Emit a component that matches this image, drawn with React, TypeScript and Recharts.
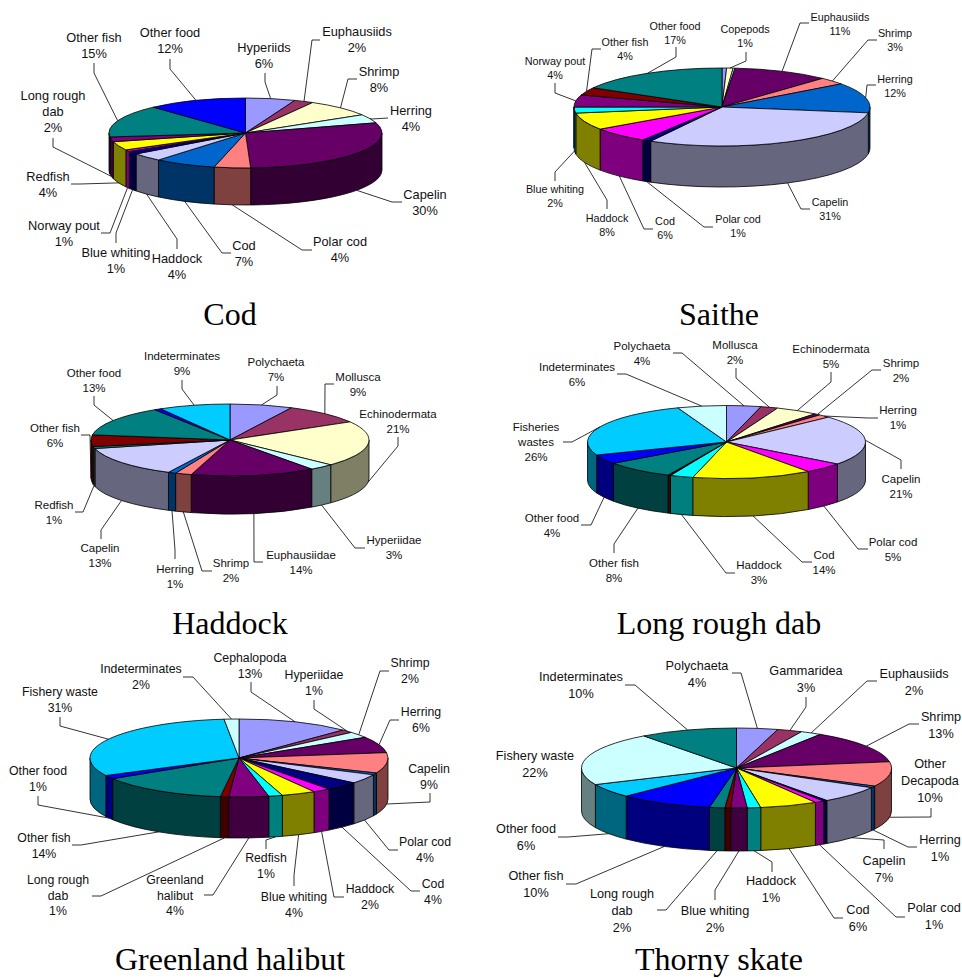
import { Pie, PieChart } from 'recharts'

const codNames = ['Hyperiids', 'Euphausiids', 'Shrimp', 'Herring', 'Capelin', 'Polar cod', 'Cod', 'Haddock', 'Blue whiting', 'Norway pout', 'Redfish', 'Long rough\ndab', 'Other fish', 'Other food']
const codPercents = [6, 2, 8, 4, 30, 4, 7, 4, 1, 1, 4, 2, 15, 12]
const codValues = [5.9, 2.3, 8.1, 4, 29.1, 4.3, 7.3, 3.8, 1.4, 0.8, 4, 2.2, 15, 11.8]
const codColors = ['#9999FF', '#993366', '#FFFFCC', '#CCFFFF', '#660066', '#FF8080', '#0066CC', '#CCCCFF', '#000080', '#FF00FF', '#FFFF00', '#800080', '#008080', '#0000FF']

const saitheNames = ['', 'Copepods', '', 'Euphausiids', 'Shrimp', 'Herring', 'Capelin', 'Polar cod', 'Cod', 'Haddock', 'Blue whiting', 'Norway pout', 'Other fish', 'Other food']
const saithePercents = [0, 1, 0, 11, 3, 12, 31, 1, 6, 8, 2, 4, 4, 17]
const saitheValues = [0.5, 0.7, 0.2, 10.5, 3, 12.5, 30.6, 1, 6.4, 7.1, 2.5, 5, 3.2, 16.8]
const saitheColors = ['#9999FF', '#FFFFCC', '#CCFFFF', '#660066', '#FF8080', '#0066CC', '#CCCCFF', '#000080', '#FF00FF', '#FFFF00', '#00FFFF', '#800080', '#800000', '#008080']

const haddockNames = ['Polychaeta', 'Mollusca', 'Echinodermata', 'Hyperiidae', 'Euphausiidae', 'Shrimp', 'Herring', 'Capelin', 'Redfish', 'Other fish', 'Other food', '', 'Indeterminates']
const haddockPercents = [7, 9, 21, 3, 14, 2, 1, 13, 1, 6, 13, 0, 9]
const haddockValues = [7.3, 9.3, 20.5, 2.9, 14.5, 1.9, 0.9, 13.9, 0.9, 5.2, 13.6, 0.8, 8.3]
const haddockColors = ['#9999FF', '#993366', '#FFFFCC', '#CCFFFF', '#660066', '#FF8080', '#0066CC', '#CCCCFF', '#008080', '#800000', '#008080', '#0000FF', '#00CCFF']

const dabNames = ['Polychaeta', 'Mollusca', 'Echinodermata', 'Shrimp', 'Herring', 'Capelin', 'Polar cod', 'Cod', 'Haddock', '', 'Other fish', 'Other food', 'Fisheries\nwastes', 'Indeterminates']
const dabPercents = [4, 2, 5, 2, 1, 21, 5, 14, 3, 0, 8, 4, 26, 6]
const dabValues = [4, 2, 5, 0.7, 1.4, 22.2, 4.7, 13.9, 2.7, 0.3, 8.2, 4.1, 25.1, 5.7]
const dabColors = ['#9999FF', '#993366', '#FFFFCC', '#660066', '#FF8080', '#CCCCFF', '#FF00FF', '#FFFF00', '#00FFFF', '#800000', '#008080', '#0000FF', '#00CCFF', '#CCFFFF']

const halibutNames = ['Cephalopoda', 'Hyperiidae', 'Shrimp', 'Herring', 'Capelin', '', 'Polar cod', 'Cod', 'Haddock', 'Blue whiting', 'Redfish', 'Greenland\nhalibut', 'Long rough\ndab', 'Other fish', 'Other food', 'Fishery waste', 'Indeterminates']
const halibutPercents = [13, 1, 2, 6, 9, 0, 4, 4, 2, 4, 1, 4, 1, 14, 1, 31, 2]
const halibutValues = [12.3, 1.3, 2.5, 6.7, 8.5, 0.8, 3.9, 3.7, 1.9, 3.7, 1.5, 4.3, 0.9, 14.1, 1.5, 30.8, 1.6]
const halibutColors = ['#9999FF', '#993366', '#CCFFFF', '#660066', '#FF8080', '#0066CC', '#CCCCFF', '#000080', '#FF00FF', '#FFFF00', '#00FFFF', '#800080', '#800000', '#008080', '#0000FF', '#00CCFF', '#CCFFFF']

const skateNames = ['Polychaeta', 'Gammaridea', 'Euphausiids', 'Shrimp', 'Other\nDecapoda', 'Herring', 'Capelin', '', 'Polar cod', 'Cod', 'Haddock', 'Blue whiting', '', 'Long rough\ndab', 'Other fish', 'Other food', 'Fishery waste', 'Indeterminates']
const skatePercents = [4, 3, 2, 13, 10, 1, 7, 0, 1, 6, 1, 2, 0, 2, 10, 6, 22, 10]
const skateValues = [4.3, 2.6, 2.2, 13.4, 10, 0.7, 6.9, 0.4, 1, 6, 1.4, 1.7, 0.6, 1.6, 9.8, 5.6, 21.6, 10.2]
const skateColors = ['#9999FF', '#993366', '#CCFFFF', '#660066', '#FF8080', '#0066CC', '#CCCCFF', '#000080', '#FF00FF', '#FFFF00', '#00FFFF', '#800080', '#800000', '#008080', '#0000FF', '#00CCFF', '#CCFFFF', '#008080']

// label layout: [text x, first line y, stub x1, y1, stub x2, y2], the leader then runs on to the slice
type Spot = number[] | null

const codSpots: Spot[] = [
  [264, 48, 265, 73, 265, 82], [357, 32, 320, 40, 312, 40], [379, 72, 357, 79, 348, 79], [411, 111, 388, 118, 372, 119],
  [425, 195, 402, 202, 392, 202], [340, 242, 312, 250, 302, 250], [244, 246, 231, 253, 222, 253], [177, 259, 177, 249, 177, 239],
  [116, 253, 116, 243, 116, 233], [64, 226, 101, 233, 110, 233], [48, 177, 71, 184, 80, 184], [53, 96, 53, 138, 53, 147],
  [94, 38, 94, 63, 94, 73], [170, 33, 170, 59, 170, 69],
]
const saitheSpots: Spot[] = [
  null, [745, 29, 746, 52, 746, 61], null, [840, 17, 809, 23, 800, 23], [895, 33, 877, 40, 868, 40], [895, 79, 876, 85, 867, 85],
  [830, 202, 810, 209, 801, 209], [738, 219, 713, 227, 704, 227], [665, 221, 653, 229, 644, 229], [607, 218, 607, 209, 607, 200],
  [555, 189, 555, 181, 555, 172], [555, 61, 555, 83, 555, 93], [625, 42, 601, 49, 592, 49], [675, 26, 676, 47, 676, 57],
]
const haddockSpots: Spot[] = [
  [276, 362, 277, 386, 277, 395], [358, 377, 334, 384, 325, 384], [398, 414, 398, 437, 398, 446], [394, 540, 365, 548, 355, 548],
  [301, 555, 263, 562, 254, 562], [231, 563, 212, 571, 202, 571], [175, 569, 175, 559, 175, 550], [100, 548, 101, 539, 101, 530],
  [54, 505, 75, 512, 83, 512], [55, 428, 81, 435, 90, 435], [94, 373, 94, 396, 94, 405], null, [182, 356, 182, 380, 182, 389],
]
const dabSpots: Spot[] = [
  [642, 346, 673, 353, 682, 353], [735, 345, 736, 368, 736, 378], [831, 349, 831, 372, 831, 382], [901, 363, 881, 370, 872, 370],
  [898, 410, 878, 418, 868, 418], [901, 479, 901, 469, 901, 460], [893, 542, 868, 549, 858, 549], [824, 555, 812, 562, 802, 562],
  [759, 565, 735, 573, 726, 573], null, [614, 563, 614, 553, 614, 544], [552, 518, 581, 525, 591, 525],
  [536, 427, 563, 442, 572, 442], [577, 367, 617, 374, 626, 374],
]
const halibutSpots: Spot[] = [
  [250, 658, 251, 682, 251, 692], [314, 675, 314, 700, 314, 709], [410, 663, 389, 671, 380, 671], [421, 712, 399, 720, 390, 720],
  [429, 769, 430, 793, 430, 802], null, [425, 842, 398, 850, 389, 850], [433, 884, 420, 891, 411, 891], [370, 889, 344, 897, 334, 897],
  [294, 897, 294, 886, 294, 875], [266, 858, 266, 849, 266, 840], [175, 880, 204, 895, 213, 895], [58, 880, 92, 896, 101, 896],
  [44, 838, 72, 845, 81, 845], [38, 771, 38, 796, 38, 805], [60, 692, 60, 717, 60, 726], [141, 669, 183, 677, 193, 677],
]
const skateSpots: Spot[] = [
  [697, 666, 732, 673, 741, 673], [806, 671, 806, 697, 806, 707], [914, 674, 877, 681, 867, 681], [941, 717, 919, 724, 909, 724],
  [930, 764, 931, 808, 931, 817], [940, 840, 917, 847, 908, 847], [884, 861, 884, 849, 884, 840], null, [934, 908, 905, 917, 896, 917],
  [858, 910, 843, 918, 834, 918], [771, 881, 772, 872, 772, 862], [715, 911, 715, 900, 715, 890], null, [622, 894, 657, 910, 666, 910],
  [536, 876, 566, 884, 576, 884], [526, 829, 558, 837, 568, 837], [535, 756], [581, 677, 625, 685, 635, 685],
]

const charts = [
  { title: 'Cod', names: codNames, percents: codPercents, values: codValues, colors: codColors, spots: codSpots, cx: 245.5, cy: 133, rx: 136.5, ry: 35, depth: 37, font: 12.8, line: 16, titleX: 230, titleY: 325 },
  { title: 'Saithe', names: saitheNames, percents: saithePercents, values: saitheValues, colors: saitheColors, spots: saitheSpots, cx: 722, cy: 107, rx: 148, ry: 39, depth: 41, font: 10.8, line: 14, titleX: 719, titleY: 325 },
  { title: 'Haddock', names: haddockNames, percents: haddockPercents, values: haddockValues, colors: haddockColors, spots: haddockSpots, cx: 230, cy: 440, rx: 139, ry: 36, depth: 38, font: 11.5, line: 15, titleX: 230, titleY: 634 },
  { title: 'Long rough dab', names: dabNames, percents: dabPercents, values: dabValues, colors: dabColors, spots: dabSpots, cx: 726.5, cy: 442, rx: 139, ry: 36.5, depth: 38, font: 11.5, line: 15, titleX: 719, titleY: 634 },
  { title: 'Greenland halibut', names: halibutNames, percents: halibutPercents, values: halibutValues, colors: halibutColors, spots: halibutSpots, cx: 239, cy: 758, rx: 149, ry: 39, depth: 41, font: 12.3, line: 15.5, titleX: 230, titleY: 970 },
  { title: 'Thorny skate', names: skateNames, percents: skatePercents, values: skateValues, colors: skateColors, spots: skateSpots, cx: 736.5, cy: 768, rx: 155, ry: 40, depth: 43, font: 12.7, line: 17, titleX: 719, titleY: 970 },
]

type ChartDef = (typeof charts)[number]

// the wall of a slice is the same colour at half strength
const halve = (hex: string) => {
  const part = (i: number) => Math.floor(parseInt(hex.slice(i, i + 2), 16) / 2).toString(16).padStart(2, '0')
  return `#${part(1)}${part(3)}${part(5)}`
}

const onRim = (c: ChartDef, deg: number, drop = 0) => {
  const a = (deg * Math.PI) / 180
  return [c.cx + c.rx * Math.cos(a), c.cy - c.ry * Math.sin(a) + drop]
}

// recharts hands over the angles, the slice is squashed to an ellipse and given a wall
const sliceShape = (c: ChartDef) => (props: any) => {
  const { startAngle, endAngle, fill } = props
  const [x1, y1] = onRim(c, startAngle)
  const [x2, y2] = onRim(c, endAngle)
  const large = Math.abs(startAngle - endAngle) > 180 ? 1 : 0
  const top = `M${c.cx},${c.cy} L${x1},${y1} A${c.rx},${c.ry} 0 ${large} 1 ${x2},${y2} Z`
  const from = Math.min(startAngle, 0)
  const to = Math.max(endAngle, -180)
  let wall = null
  if (from > to) {
    const [a1, b1] = onRim(c, from)
    const [a2, b2] = onRim(c, to)
    wall = `M${a1},${b1} A${c.rx},${c.ry} 0 0 1 ${a2},${b2} L${a2},${b2 + c.depth} A${c.rx},${c.ry} 0 0 0 ${a1},${b1 + c.depth} Z`
  }
  return (
    <g>
      {wall && <path d={wall} fill={halve(fill)} stroke="#000" strokeWidth={0.8} />}
      <path d={top} fill={fill} stroke="#000" strokeWidth={0.8} />
    </g>
  )
}

const sliceLabel = (c: ChartDef) => (props: any) => {
  const spot = c.spots[props.index]
  if (!spot) return <g />
  const [tx, ty, sx, sy, ex, ey] = spot
  const lines = [...c.names[props.index].split('\n'), `${c.percents[props.index]}%`]
  const sin = Math.sin((props.midAngle * Math.PI) / 180)
  const [ax, ay] = onRim(c, props.midAngle, sin < 0 ? c.depth : 0)
  return (
    <g>
      {sx !== undefined && (
        <polyline points={`${sx},${sy} ${ex},${ey} ${ax},${ay}`} fill="none" stroke="#000" strokeWidth={0.8} />
      )}
      {lines.map((t, i) => (
        <text key={i} x={tx} y={ty + i * c.line + c.font * 0.35} textAnchor="middle" fontFamily="'Liberation Sans', Arial" fontSize={c.font} fill="#111">
          {t}
        </text>
      ))}
    </g>
  )
}

export default function App() {
  return (
    <div style={{ position: 'absolute', left: 0, top: 0, width: 962, height: 978, background: '#fff' }}>
      <PieChart width={962} height={978} margin={{ top: 0, right: 0, bottom: 0, left: 0 }}>
        {charts.map((c) => (
          <Pie
            key={c.title}
            data={c.values.map((value, i) => ({ name: c.names[i], value, fill: c.colors[i] }))}
            dataKey="value"
            nameKey="name"
            cx={c.cx}
            cy={c.cy}
            innerRadius={0}
            outerRadius={c.rx}
            startAngle={90}
            endAngle={-270}
            stroke="#000"
            shape={sliceShape(c)}
            label={sliceLabel(c)}
            labelLine={false}
            isAnimationActive={false}
          />
        ))}
      </PieChart>
      {charts.map((c) => (
        <div
          key={c.title}
          style={{ position: 'absolute', left: c.titleX - 200, top: c.titleY - 29, width: 400, textAlign: 'center', fontFamily: "'Liberation Serif', 'Times New Roman', serif", fontSize: 32, lineHeight: '36px', color: '#000' }}
        >
          {c.title}
        </div>
      ))}
    </div>
  )
}
